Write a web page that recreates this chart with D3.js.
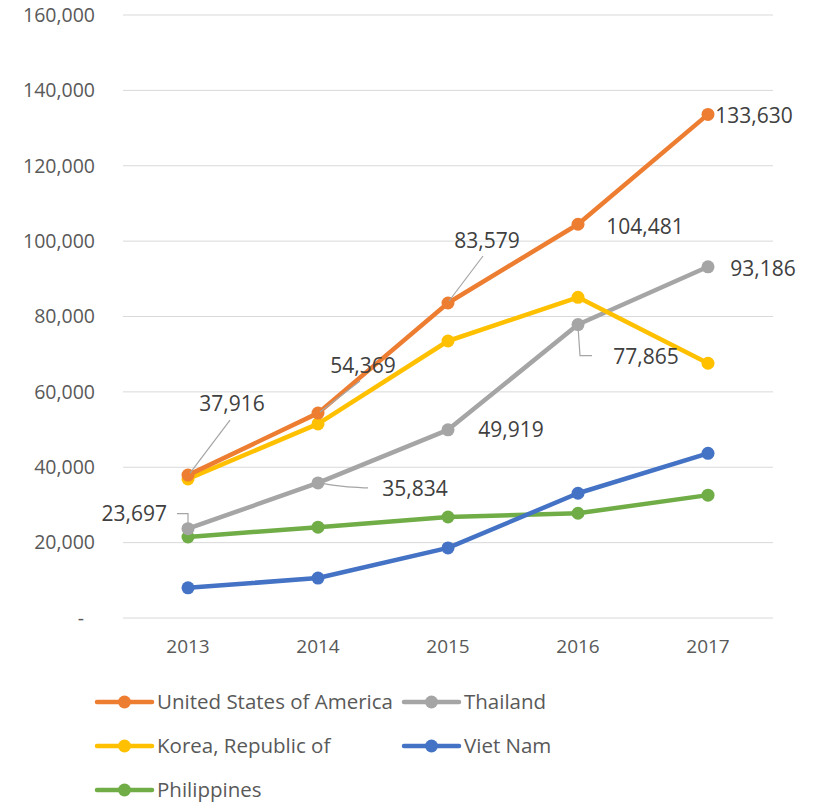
<!DOCTYPE html>
<html>
<head>
<meta charset="utf-8">
<script src="https://cdn.jsdelivr.net/npm/d3@7"></script>
<style>
  body { margin: 0; background: #fff; }
  text { font-family: "Open Sans", sans-serif; }
</style>
</head>
<body>
<div class="canvas"></div>
<script>
// data
const years = ['2013', '2014', '2015', '2016', '2017'];
const usa = [37916, 54369, 83579, 104481, 133630];
const thailand = [23697, 35834, 49919, 77865, 93186];
const korea = [36900, 51500, 73500, 85100, 67600];
const vietnam = [8000, 10600, 18600, 33100, 43700];
const philippines = [21500, 24100, 26800, 27800, 32600];
const yTicks = [0, 20000, 40000, 60000, 80000, 100000, 120000, 140000, 160000];

const series = [
  {name: 'Philippines', values: philippines, color: '#70ad47'},
  {name: 'Viet Nam', values: vietnam, color: '#4472c4'},
  {name: 'Thailand', values: thailand, color: '#a5a5a5'},
  {name: 'Korea, Republic of', values: korea, color: '#ffc000'},
  {name: 'United States of America', values: usa, color: '#ed7d31'}
];

// svg + margins
const svg = d3.select('.canvas')
  .append('svg')
    .attr('width', 813)
    .attr('height', 808);

const margin = {top: 15, left: 123};
const graphWidth = 650;
const graphHeight = 603;

const graph = svg.append('g')
  .attr('transform', `translate(${margin.left}, ${margin.top})`);

const x = d3.scaleBand()
  .domain(years)
  .range([0, graphWidth]);

const y = d3.scaleLinear()
  .domain([0, 160000])
  .range([graphHeight, 0]);

const cx = d => x(d) + x.bandwidth() / 2;

// gridlines
graph.append('g')
  .selectAll('line')
  .data(yTicks)
  .enter().append('line')
    .attr('x1', 0)
    .attr('x2', graphWidth)
    .attr('y1', d => y(d))
    .attr('y2', d => y(d))
    .attr('stroke', '#d9d9d9')
    .attr('stroke-width', 1);

// axes
const yAxis = d3.axisLeft(y)
  .tickValues(yTicks)
  .tickSize(0)
  .tickPadding(28)
  .tickFormat(d => d === 0 ? '-' : d3.format(',')(d));

const yAxisGroup = graph.append('g').call(yAxis);
yAxisGroup.select('.domain').remove();
yAxisGroup.selectAll('text')
  .attr('font-size', 19.5)
  .attr('fill', '#595959')
  .attr('dx', d => d === 0 ? -11 : 0);

const xAxis = d3.axisBottom(x).tickSize(0).tickPadding(22);
const xAxisGroup = graph.append('g')
  .attr('transform', `translate(0, ${graphHeight})`)
  .call(xAxis);
xAxisGroup.select('.domain').remove();
xAxisGroup.selectAll('text')
  .attr('font-size', 19)
  .attr('fill', '#595959');

// lines and markers
const line = d3.line()
  .x((d, i) => cx(years[i]))
  .y(d => y(d));

series.forEach(s => {
  graph.append('path')
    .datum(s.values)
    .attr('d', line)
    .attr('fill', 'none')
    .attr('stroke', s.color)
    .attr('stroke-width', 4.5)
    .attr('stroke-linejoin', 'round');

  graph.selectAll(null)
    .data(s.values)
    .enter().append('circle')
      .attr('cx', (d, i) => cx(years[i]))
      .attr('cy', d => y(d))
      .attr('r', 6.5)
      .attr('fill', s.color);
});

// data labels (usa + thailand), offsets relative to the point
const labels = [
  {v: usa, i: 0, dx: 44, dy: -71, leader: [[42, -55], [2, -2]]},
  {v: usa, i: 1, dx: 45, dy: -47, leader: [[42, -32], [2, -1]]},
  {v: usa, i: 2, dx: 39, dy: -62, leader: [[35, -47], [1, -2]]},
  {v: usa, i: 3, dx: 67, dy: 2},
  {v: usa, i: 4, dx: 46, dy: 1},
  {v: thailand, i: 0, dx: -21, dy: -15, leader: [[-11, -15], [0, -15], [0, -3]], anchor: 'end'},
  {v: thailand, i: 1, dx: 97, dy: 6, leader: [[2, 0], [25, 4], [50, 5]], curve: true},
  {v: thailand, i: 2, dx: 63, dy: 0},
  {v: thailand, i: 3, dx: 68, dy: 32, leader: [[0, 2], [2, 31], [14, 31]]},
  {v: thailand, i: 4, dx: 55, dy: 2}
];

const labelGroup = graph.append('g');
labels.forEach(l => {
  const px = cx(years[l.i]);
  const py = y(l.v[l.i]);
  if (l.leader) {
    labelGroup.append('path')
      .attr('d', d3.line().curve(l.curve ? d3.curveBasis : d3.curveLinear)(l.leader.map(p => [px + p[0], py + p[1]])))
      .attr('fill', 'none')
      .attr('stroke', '#a5a5a5')
      .attr('stroke-width', 1.2);
  }
  labelGroup.append('text')
    .attr('x', px + l.dx)
    .attr('y', py + l.dy)
    .attr('dy', '0.35em')
    .attr('text-anchor', l.anchor || 'middle')
    .attr('font-size', 21)
    .attr('fill', '#404040')
    .text(d3.format(',')(l.v[l.i]));
});

// legend
const legendItems = [
  {s: series[4], x: 97, y: 702},
  {s: series[2], x: 404, y: 702},
  {s: series[3], x: 97, y: 746},
  {s: series[1], x: 404, y: 746},
  {s: series[0], x: 97, y: 790}
];

const legend = svg.append('g');
legendItems.forEach(item => {
  const g = legend.append('g').attr('transform', `translate(${item.x}, ${item.y})`);
  g.append('line')
    .attr('x1', 0).attr('x2', 55)
    .attr('stroke', item.s.color)
    .attr('stroke-width', 4.5)
    .attr('stroke-linecap', 'round');
  g.append('circle')
    .attr('cx', 27.5)
    .attr('r', 6.5)
    .attr('fill', item.s.color);
  g.append('text')
    .attr('x', 60)
    .attr('dy', '0.35em')
    .attr('font-size', 20.5)
    .attr('fill', '#595959')
    .text(item.s.name);
});
</script>
</body>
</html>
